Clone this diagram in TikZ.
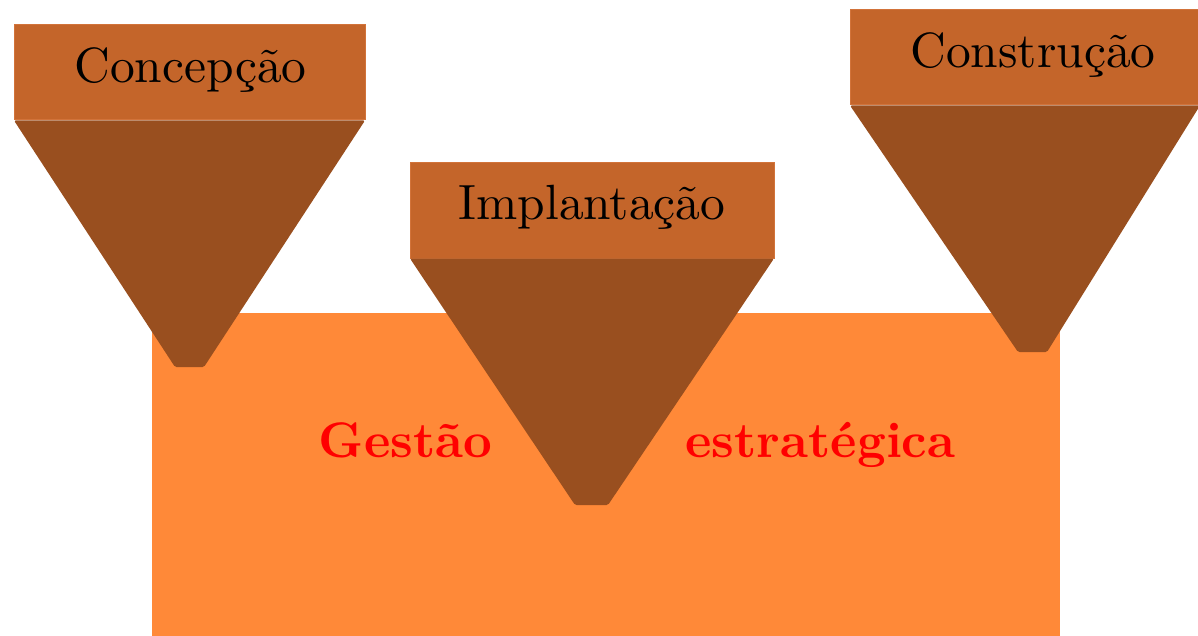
\documentclass[tikz,border=0pt]{standalone}
\usepackage{fontspec}
\setmainfont{lmroman10}[Extension=.otf, UprightFont=*-regular, BoldFont=*-bold, ItalicFont=*-italic, BoldItalicFont=*-bolditalic]
\definecolor{boxc}{HTML}{C4652A}
\definecolor{boxedge}{HTML}{D2733A}
\definecolor{func}{HTML}{994F1F}
\definecolor{basec}{HTML}{FF8938}
\definecolor{txtred}{HTML}{FF0000}
\begin{document}
\begin{tikzpicture}[x=1pt,y=-1pt,
  topbox/.style={fill=boxc, draw=boxedge, line width=1pt, inner sep=0pt, minimum height=95pt},
  funnel/.style={fill=func, draw=none},
  lbl/.style={font=\fontsize{49.5}{58}\selectfont, text=black, inner sep=0pt, anchor=base},
  redlbl/.style={font=\fontsize{50}{60}\selectfont\bfseries, text=txtred, inner sep=0pt, anchor=base},
  base/.style={fill=basec, draw=none, inner sep=0pt, minimum width=908pt, minimum height=330pt}]
\useasboundingbox (0,0) rectangle (1198,636);
% base rectangle
\node[base, anchor=north west] (gest) at (152,313) {};
\node[redlbl] (g1) at (405.5,457) {Gestão};
\node[redlbl] (g2) at (820.5,457) {estratégica};
% boxes
\node[topbox, minimum width=351pt] (conc) at (189.5,72.5) {};
\node[topbox, minimum width=364pt] (impl) at (592,210.5) {};
\node[topbox, minimum width=350pt] (cons) at (1025,57.5) {};
% funnels
\coordinate (cb1) at (175,367); \coordinate (cb2) at (204,367);
\coordinate (ib1) at (575,505); \coordinate (ib2) at (608,505);
\coordinate (sb1) at (1018,352); \coordinate (sb2) at (1047,352);
\fill[funnel, rounded corners=1.5pt] ([xshift=0.5pt]conc.south west) -- ([xshift=-0.5pt]conc.south east) -- (cb2) -- (cb1) -- cycle;
\fill[funnel, rounded corners=1.5pt] ([xshift=0.5pt]impl.south west) -- ([xshift=-0.5pt]impl.south east) -- (ib2) -- (ib1) -- cycle;
\fill[funnel, rounded corners=1.5pt] ([xshift=0.5pt]cons.south west) -- ([xshift=-0.5pt]cons.south east) -- (sb2) -- (sb1) -- cycle;
% labels
\node[lbl] (lc) at (190.5,83) {Concepção};
\node[lbl] (li) at (592,220) {Implantação};
\node[lbl] (ls) at (1033,68) {Construção};
\end{tikzpicture}
\end{document}
